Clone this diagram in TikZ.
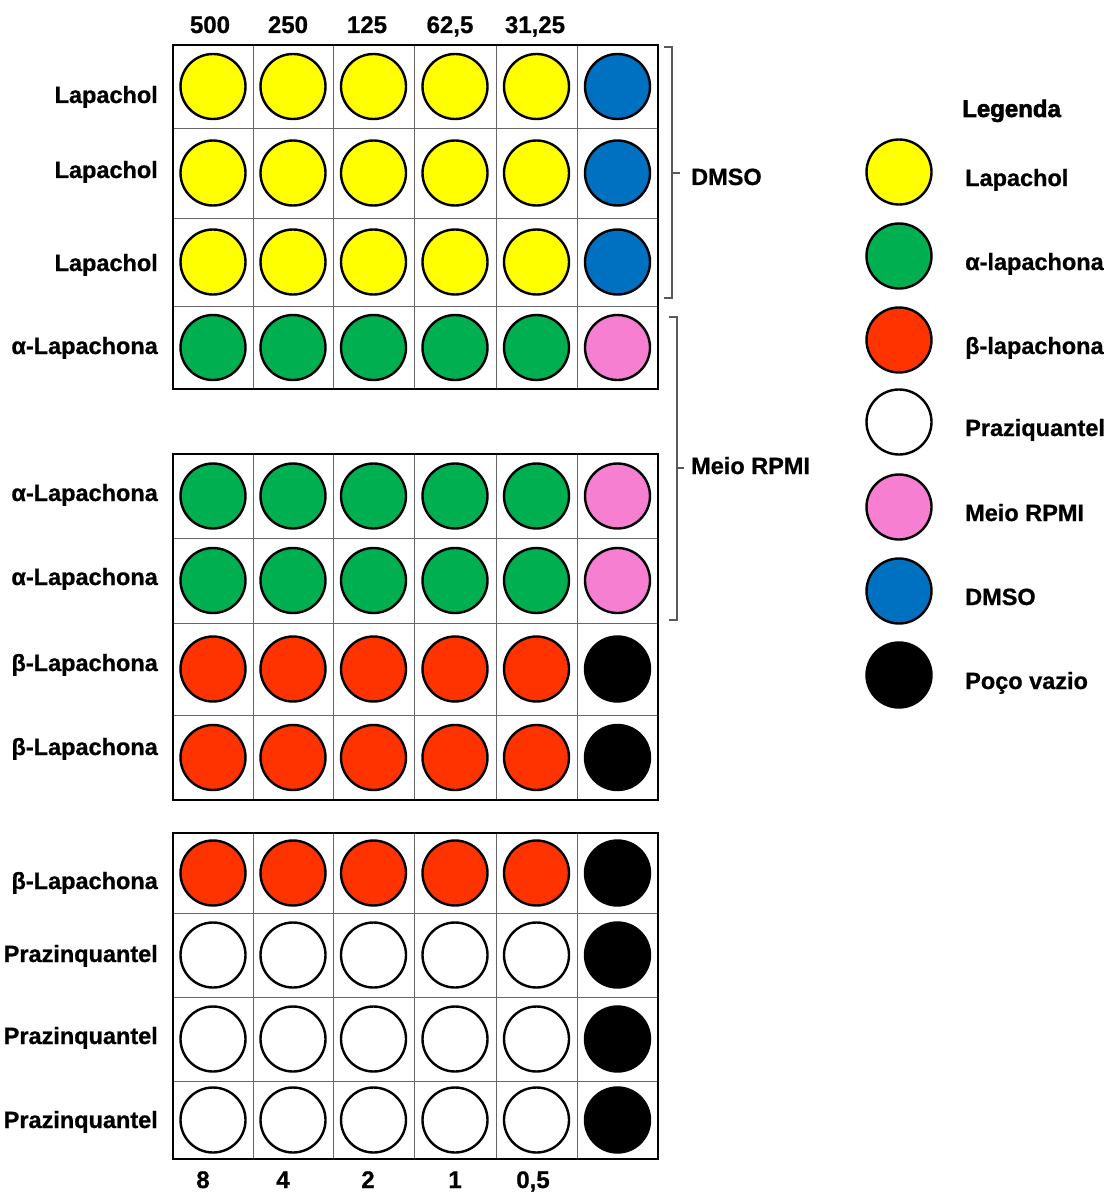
\documentclass[tikz,border=0pt]{standalone}
\usepackage{fontspec}
\setmainfont{Liberation Sans}
\newfontfamily\lblfont{Liberation Sans Bold}[FakeBold=0.8]
\newfontfamily\legfont{Liberation Sans Bold}[FakeBold=2.5]
\begin{document}
\begin{tikzpicture}[x=1pt,y=-1pt,
  lbl/.style={font=\lblfont\fontsize{23.5}{25}\selectfont, inner sep=0pt},
  num/.style={font=\lblfont\fontsize{24}{26}\selectfont, inner sep=0pt, anchor=base},
  well/.style={circle, draw=black, line width=2.4pt, minimum size=65pt, inner sep=0pt},
  grid/.style={draw=gray!80!black, line width=0.9pt},
  frame/.style={draw=black, line width=2.8pt},
  brk/.style={draw=gray!70!black, line width=1.1pt}]
\definecolor{wyel}{HTML}{FFFF00}
\definecolor{wgrn}{HTML}{00B050}
\definecolor{wred}{HTML}{FF3300}
\definecolor{wpnk}{HTML}{F77FD2}
\definecolor{wblu}{HTML}{0070C0}
\useasboundingbox (0,0) rectangle (1110,1193);
\fill[white] (0,0) rectangle (1110,1193);

% ---------- box A ----------
\foreach \x in {253,333,414,496,577} \draw[grid] (\x,45) -- (\x,389);
\foreach \y in {128,218,306} \draw[grid] (173,\y) -- (658,\y);
\draw[frame] (173,45) rectangle (658,389);
% ---------- box B ----------
\foreach \x in {253,333,414,496,577} \draw[grid] (\x,454) -- (\x,800);
\foreach \y in {538,623,715} \draw[grid] (173,\y) -- (658,\y);
\draw[frame] (173,454) rectangle (658,800);
% ---------- box C ----------
\foreach \x in {253,333,414,496,577} \draw[grid] (\x,833) -- (\x,1159);
\foreach \y in {913,997,1081} \draw[grid] (173,\y) -- (658,\y);
\draw[frame] (173,833) rectangle (658,1159);

% wells: row index / y centre / sample colour / control colour
\foreach \r/\y/\c/\k in {1/86.5/wyel/wblu, 2/173/wyel/wblu, 3/262/wyel/wblu, 4/347.5/wgrn/wpnk,
                         5/496/wgrn/wpnk, 6/580.5/wgrn/wpnk, 7/669/wred/black, 8/757.5/wred/black,
                         9/873/wred/black, 10/955/white/black, 11/1039/white/black, 12/1120/white/black}{
  \foreach \i/\x in {1/213,2/293,3/373.5,4/455,5/536.5}
    \node[well, fill=\c] (w-\r-\i) at (\x,\y) {};
  \node[well, fill=\k] (w-\r-6) at (617.5,\y) {};
}

% row labels (baselines)
\foreach \n/\y/\t in {1/103/Lapachol, 2/178/Lapachol, 3/271/Lapachol, 4/354/α-Lapachona,
                      5/501/α-Lapachona, 6/585/α-Lapachona, 7/671/β-Lapachona, 8/755/β-Lapachona,
                      9/889/β-Lapachona, 10/962/Prazinquantel, 11/1044/Prazinquantel, 12/1128/Prazinquantel}
  \node[lbl, anchor=base east] (r\n) at (158,\y) {\t};

% column headers
\foreach \n/\x/\t in {1/210/500, 2/288/250, 3/367/125, 4/450/{62,5}, 5/535/{31,25}}
  \node[num] (h\n) at (\x,33) {\t};
\foreach \n/\x/\t in {1/203/8, 2/283/4, 3/368/2, 4/455/1, 5/533/{0,5}}
  \node[num] (b\n) at (\x,1188) {\t};

% brackets
\coordinate (d1) at (664,47); \coordinate (d2) at (664,298);
\draw[brk] (d1) -- (672,47) -- (672,298) -- (d2);
\draw[brk] (672,173) -- (680,173);
\node[lbl, anchor=base west] (dmso) at (691,185) {DMSO};
\coordinate (m1) at (669,317); \coordinate (m2) at (669,620);
\draw[brk] (m1) -- (677,317) -- (677,620) -- (m2);
\draw[brk] (677,468) -- (684,468);
\node[lbl, anchor=base west] (rpmi) at (691,474) {Meio RPMI};

% legend
\node[anchor=base west, inner sep=0pt, font=\legfont\fontsize{24}{26}\selectfont] (leg) at (962,117) {Legenda};
\foreach \n/\y/\c/\t in {1/172/wyel/Lapachol, 2/256/wgrn/α-lapachona, 3/340/wred/β-lapachona,
                         4/422/white/Praziquantel, 5/507/wpnk/Meio RPMI, 6/591/wblu/DMSO, 7/675/black/Poço vazio}{
  \node[well, fill=\c] (lc\n) at (899,\y) {};
  \node[lbl, anchor=base west] (lt\n) at (965,\y+14) {\t};
}
\end{tikzpicture}
\end{document}
